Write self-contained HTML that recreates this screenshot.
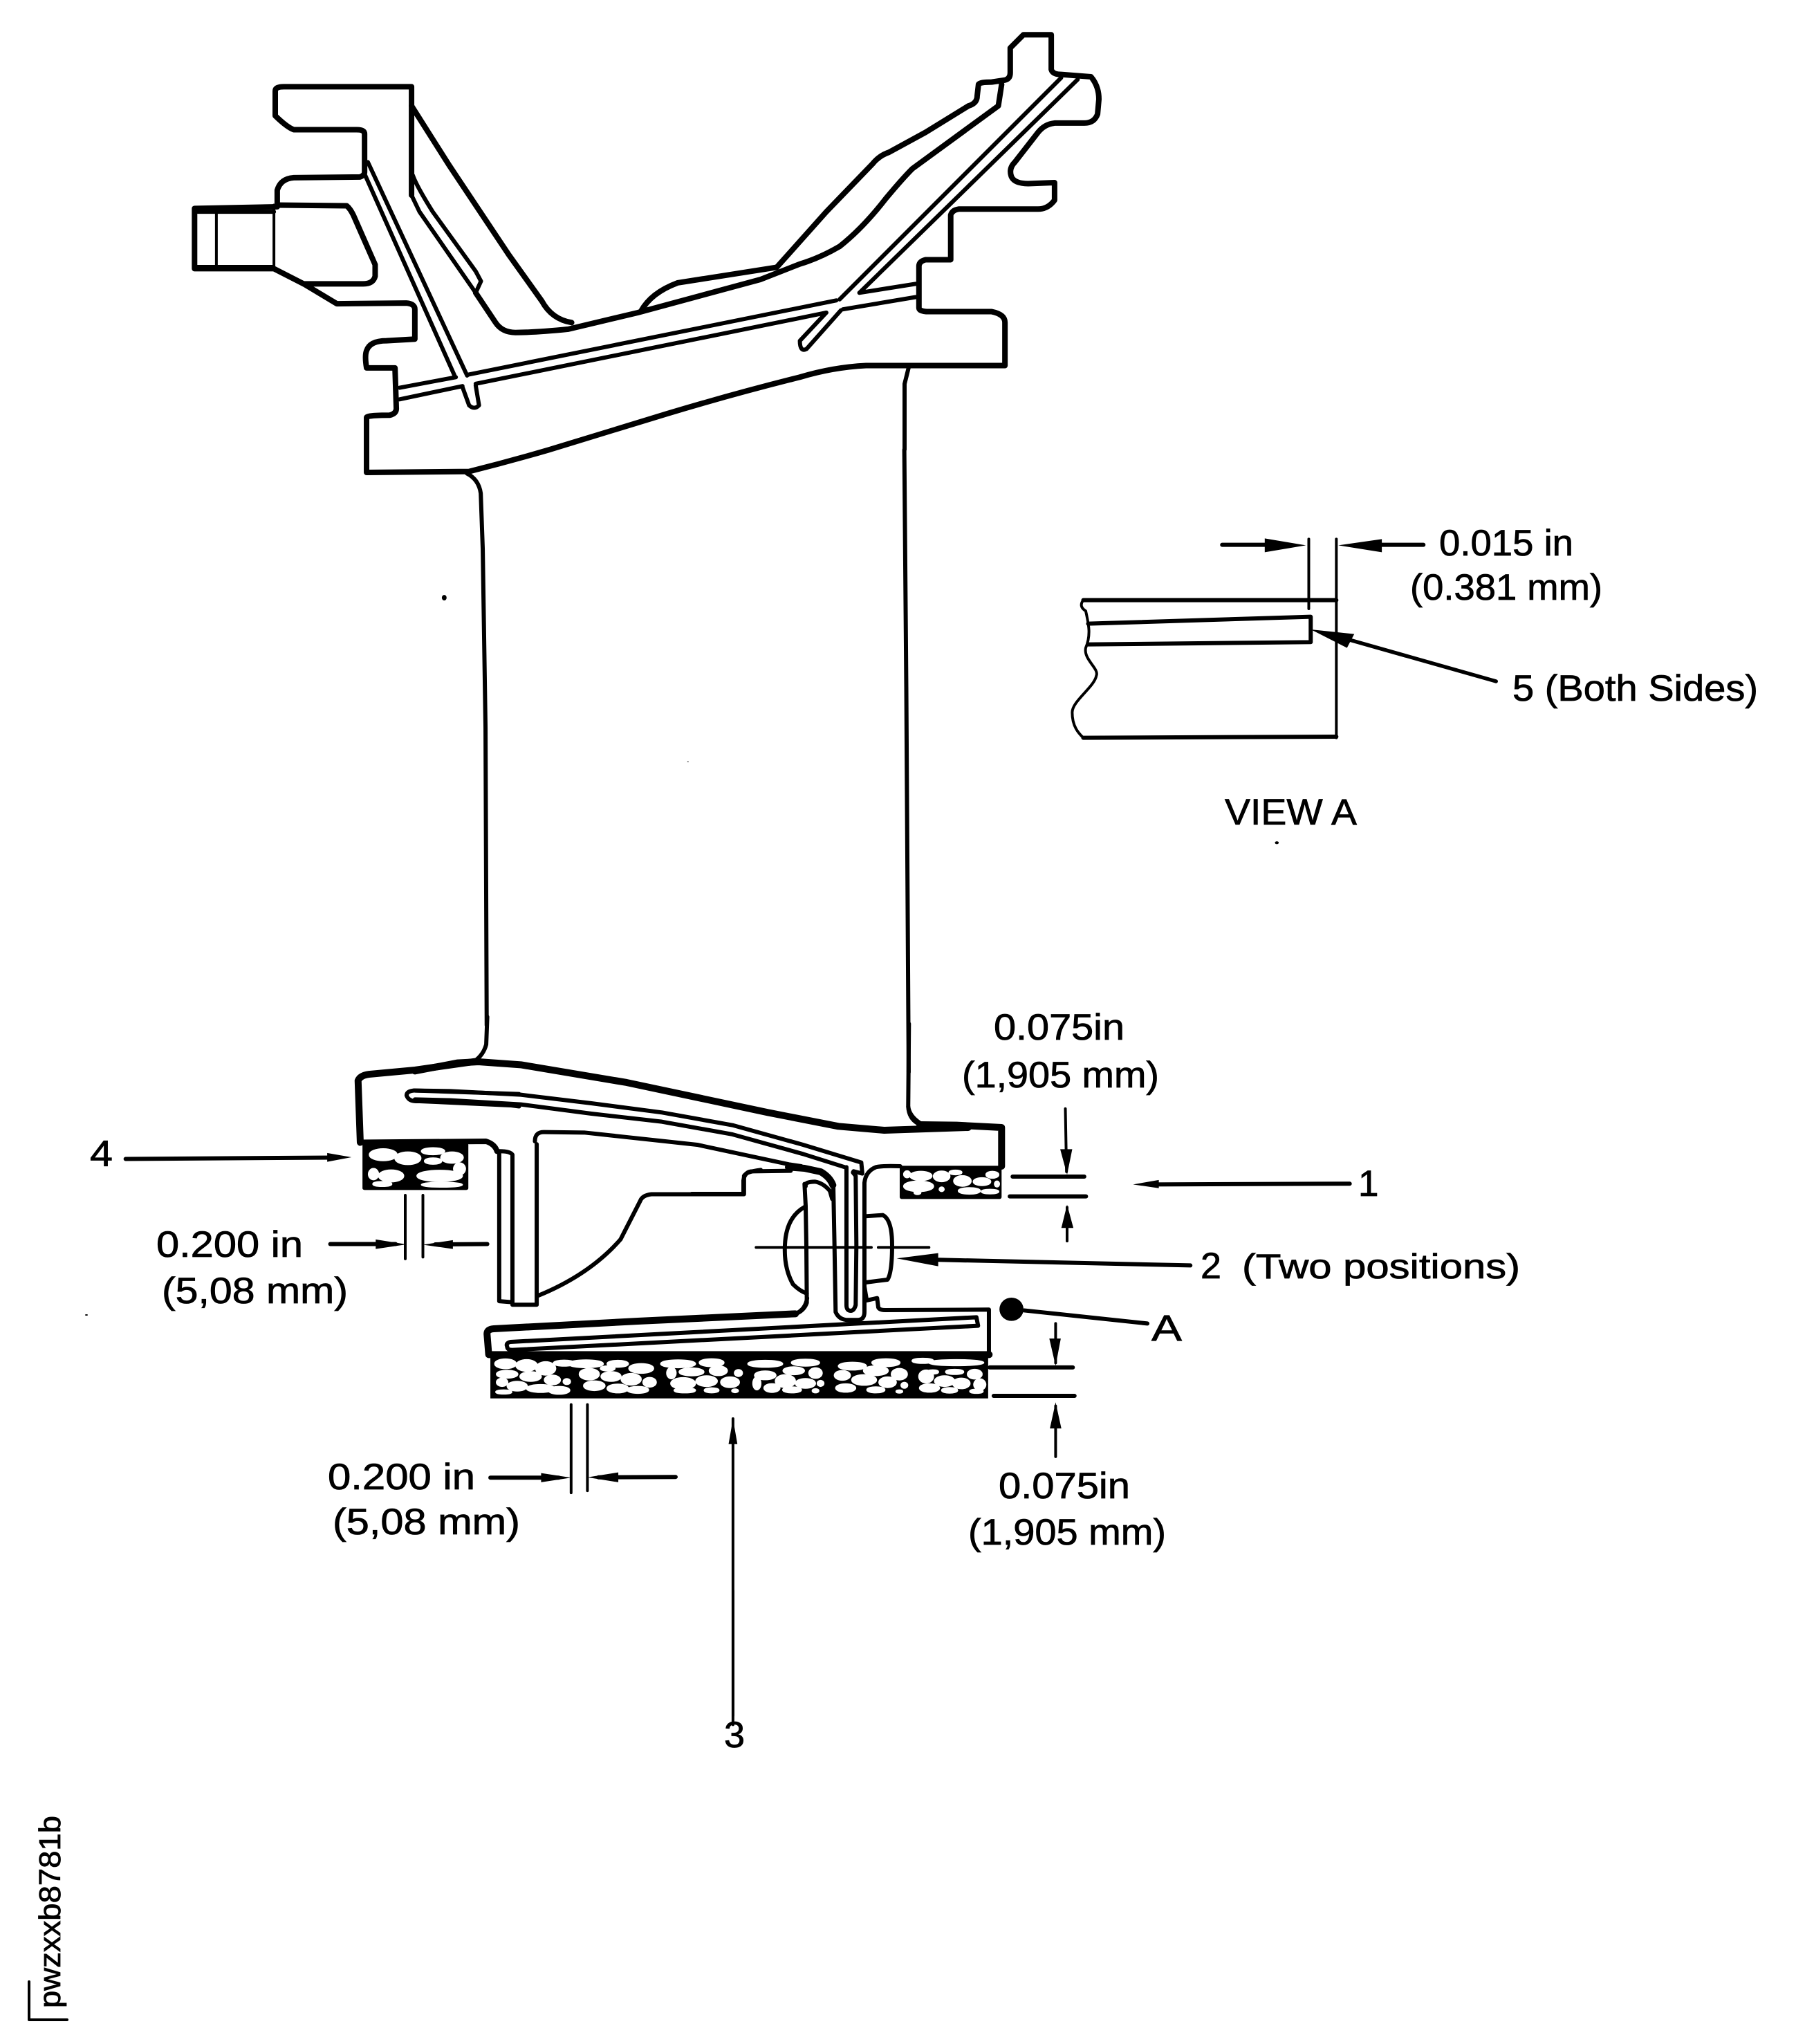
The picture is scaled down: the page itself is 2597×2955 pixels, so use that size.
<!DOCTYPE html>
<html><head><meta charset="utf-8"><title>Blade diagram</title>
<style>
html,body{margin:0;padding:0;background:#fff}
svg{display:block}
path,line,polyline{fill:none;stroke:#000;stroke-width:8;vector-effect:non-scaling-stroke;stroke-linejoin:round;stroke-linecap:round}
.t{stroke-width:6}
.h{stroke-width:4}
.b{stroke-width:10}
polygon{fill:#000;stroke:none}
text{font-family:"Liberation Sans",sans-serif;font-size:53px;fill:#000;stroke:#000;stroke-width:.8}
.w ellipse{fill:#fff;stroke:#fff;stroke-width:3.5;vector-effect:non-scaling-stroke}
</style></head><body>
<svg xmlns="http://www.w3.org/2000/svg" width="2597" height="2955" viewBox="0 0 2597 2955">
<rect width="2597" height="2955" fill="#fff"/>

<!-- top casting -->
<g transform="translate(200,0) scale(.9566,.4783)">
<path d="M760,940 Q775,885 815,855 L965,808 L1040,640 1110,495 Q1120,470 1135,460 L1190,400 1255,320 Q1268,312 1268,290 L1270,255 Q1272,248 1290,248 L1310,242 Q1318,238 1318,220 L1318,145 1338,105 1380,105 1380,210 Q1382,225 1395,225 L1440,232 Q1452,260 1452,300 L1450,345 Q1445,372 1430,372 L1385,372 Q1370,375 1360,400 L1325,490 Q1315,510 1320,535 Q1325,555 1345,555 L1385,552 1385,605 Q1375,632 1360,632 L1240,632 Q1230,635 1228,650 L1228,785 1190,785 Q1180,790 1180,805 L1180,930 Q1180,942 1195,942 L1290,942 Q1310,950 1310,975 L1310,1105 1100,1105 Q1050,1110 1000,1140 Q900,1190 800,1250 L620,1360 Q560,1395 500,1425 L345,1428 345,1262 Q345,1255 380,1255 Q390,1250 390,1235 L388,1112 345,1112 Q342,1075 345,1060 Q350,1030 375,1030 L418,1025 418,935 Q418,918 405,916 L300,918 250,858 205,812 85,812 85,630 210,625 210,575 Q215,540 235,537 L335,535 Q342,530 342,520 L342,405 Q342,392 330,392 L235,392 Q225,385 207,350 L207,275 Q207,262 220,262 L413,262 413,590"/>
<path d="M1305,255 L1300,320 1170,510 Q1155,540 1130,600 Q1095,690 1060,745 Q1030,780 1000,798 L940,845 755,945 650,995 Q600,1005 570,1005 Q550,1005 540,975 L510,885"/>
<path d="M413,320 L470,500 560,770 610,910 Q625,965 655,975"/>
<path d="M415,530 Q420,560 445,640 L510,820 518,850 510,885 L425,640 413,590" class="t"/>
<!-- stub -->
<path d="M90,640 L205,640" class="t"/><path d="M118,640 L118,805 M205,620 L205,805 M85,805 L205,805" class="h"/>
<path d="M210,620 L315,622 Q320,630 325,650 L358,800 358,835 Q355,858 340,858 L250,858"/>
<!-- slots -->
<path class="t" d="M395,1172 L480,1140 M497,1133 L1055,908 M1090,885 L1175,858"/>
<path class="t" d="M395,1207 L490,1167 M510,1160 L1040,945 M1065,935 L1175,898"/>
<path class="t" d="M343,530 L478,1135 M347,490 L497,1135 M490,1170 L500,1225 Q508,1240 515,1225 L510,1165"/>
<path class="t" d="M1395,235 L1060,905 M1040,945 L1000,1030 Q1000,1065 1010,1055 L1062,938 M1420,240 L1090,885"/>
</g>

<!-- airfoil -->
<g transform="translate(500,650) scale(.574)">
<path class="t" d="M305,60 Q335,75 340,110 L345,250 352,700 355,1450"/>
<path class="t" d="M1407,0 L1412,600 1418,1568"/>
<ellipse cx="248" cy="373" rx="6" ry="7"/>
<ellipse cx="862" cy="786" rx="2" ry="1"/>
</g>
<path class="t" d="M1308,650 L1308,555 1314,531"/>
<ellipse cx="125" cy="1901" rx="2" ry="1"/>

<!-- lower platform -->
<g transform="translate(600,1480) scale(.5102,.3333)">
<path d="M1568,450 L1330,462 1200,445 1000,385 600,255 300,178 180,165 120,170 0,205" class="b"/>
<path class="t" d="M205,-30 L202,90 Q195,130 175,155"/>
<path class="t" d="M1400,0 L1398,360 Q1400,410 1425,432"/>
<path class="t" d="M0,290 L100,292 300,308 500,345 700,385 900,440 1100,525 1265,602 L1268,650 L1243,640"/>
<path class="t" d="M0,328 L100,332 300,350 500,390 700,425 900,480 1100,565 1218,622"/>
<path class="t" d="M340,510 Q340,470 365,470 L480,472 800,525 1060,610 1095,618"/>
</g>
<g transform="translate(100,1450) scale(.6378,.5102)">
<path class="b" d="M660,395 L655,220 Q660,205 680,202 L784,190 L925,165"/>
<path class="t" d="M782,248 Q765,250 765,262 Q770,280 790,278 L1000,290 L1000,290 1020,293"/>
<path class="t" d="M782,248 L1020,258"/>
<path d="M660,395 L945,392 Q965,400 970,420" />
<path class="t" d="M975,420 L975,845 1005,848 1005,430 Q1000,420 975,420"/>
<path class="t" d="M1005,855 L1060,855 1060,400"/>
<path class="t" d="M1062,830 Q1180,770 1250,670 L1295,560 Q1300,545 1320,542 L1530,542 1530,490 Q1535,478 1568,473"/>
<path class="h" d="M762,545 L762,725 M802,545 L802,720 M1138,1138 L1138,1388 M1175,1138 L1175,1382"/>
<path class="h" d="M1505,1178 L1505,2045"/>
<polygon points="1505,1178 1495,1250 1515,1250"/>
<!-- small honeycomb -->
<rect x="665" y="397" width="240" height="133" rx="5"/>
<g class="w">
<ellipse cx="712" cy="430" rx="30" ry="15"/><ellipse cx="768" cy="440" rx="28" ry="16"/><ellipse cx="825" cy="420" rx="25" ry="8"/><ellipse cx="868" cy="438" rx="24" ry="14"/><ellipse cx="825" cy="448" rx="18" ry="7"/>
<ellipse cx="730" cy="490" rx="27" ry="15"/><ellipse cx="690" cy="485" rx="10" ry="14"/><ellipse cx="840" cy="490" rx="50" ry="14"/><ellipse cx="710" cy="513" rx="20" ry="5"/><ellipse cx="845" cy="515" rx="45" ry="5"/><ellipse cx="885" cy="470" rx="12" ry="15"/>
</g>
</g>
<g transform="translate(1000,1600) scale(.3333)">
<path class="t" d="M940,0 Q945,40 990,70"/>
<path class="b" d="M990,78 L1150,80 L1345,90 L1345,258"/>
<path d="M700,285 L712,300 L715,600 L712,860 Q705,885 690,885 Q672,885 672,860 L672,262" class="t"/>
<path d="M615,340 L620,600 L625,890 Q640,925 680,925 L720,925 Q750,925 750,890 L750,330 Q755,280 800,262 Q830,255 905,258" class="t"/>
<path d="M420,262 L490,267 560,282 Q600,305 613,340" class="b"/>
<path d="M225,378 L225,320 Q230,280 265,280 L430,278" class="t"/><path d="M0,378 L225,378" class="t"/>
<path class="t" d="M495,345 Q490,325 535,325 Q570,330 600,365 L610,400"/>
<path class="t" d="M490,335 L495,430 498,600 500,850 Q490,880 460,895"/>
<path class="t" d="M490,435 Q410,480 405,600 Q400,700 440,770 Q470,800 500,810"/>
<path class="t" d="M755,475 L830,470 Q870,490 870,600 Q870,720 850,750 L755,762"/>
<path class="h" d="M280,610 L780,610 M810,610 L1030,610"/>
<polygon points="890,658 1070,635 1070,692"/>
<path class="t" d="M750,780 L760,840 805,830 810,870 Q815,882 840,882 L1290,880 1290,1080"/>
<!-- right small honeycomb -->
<rect x="903" y="256" width="442" height="144" rx="8"/>
<g class="w">
<ellipse cx="935" cy="293" rx="12" ry="12"/><ellipse cx="995" cy="300" rx="45" ry="17"/><ellipse cx="1085" cy="302" rx="33" ry="20"/><ellipse cx="985" cy="345" rx="62" ry="20"/><ellipse cx="1145" cy="285" rx="25" ry="7"/><ellipse cx="1175" cy="322" rx="35" ry="20"/><ellipse cx="1260" cy="325" rx="35" ry="14"/><ellipse cx="1305" cy="295" rx="25" ry="12"/><ellipse cx="1205" cy="365" rx="45" ry="11"/><ellipse cx="1295" cy="368" rx="35" ry="7"/><ellipse cx="980" cy="372" rx="12" ry="6"/><ellipse cx="1325" cy="335" rx="8" ry="10"/><ellipse cx="1085" cy="358" rx="8" ry="7"/>
</g>
</g>
<g transform="translate(680,1850) scale(.4847,.3333)">
<path class="b" d="M970,148 L500,180 70,213 Q50,215 50,235 L55,325 L1548,325"/>
<path class="t" d="M970,148 Q1000,130 1005,80"/>
<path class="t" d="M120,270 Q105,275 110,290 Q110,305 125,305 L1515,200 1510,163 120,270"/>
<rect x="60" y="330" width="1485" height="185"/>
<g class="w">
<ellipse cx="105" cy="365" rx="30" ry="18"/><ellipse cx="168" cy="372" rx="30" ry="22"/><ellipse cx="225" cy="385" rx="28" ry="26"/><ellipse cx="280" cy="362" rx="30" ry="10"/><ellipse cx="110" cy="410" rx="30" ry="14"/><ellipse cx="180" cy="420" rx="30" ry="18"/><ellipse cx="245" cy="435" rx="22" ry="18"/><ellipse cx="288" cy="442" rx="9" ry="10"/><ellipse cx="95" cy="445" rx="15" ry="15"/><ellipse cx="140" cy="462" rx="28" ry="18"/><ellipse cx="210" cy="472" rx="40" ry="14"/><ellipse cx="265" cy="480" rx="30" ry="14"/><ellipse cx="100" cy="487" rx="22" ry="6"/>
<ellipse cx="355" cy="410" rx="28" ry="22"/><ellipse cx="420" cy="420" rx="28" ry="18"/><ellipse cx="480" cy="432" rx="28" ry="22"/><ellipse cx="535" cy="445" rx="18" ry="18"/><ellipse cx="370" cy="460" rx="30" ry="18"/><ellipse cx="440" cy="472" rx="30" ry="16"/><ellipse cx="500" cy="478" rx="30" ry="12"/><ellipse cx="345" cy="365" rx="50" ry="14"/><ellipse cx="440" cy="365" rx="30" ry="12"/><ellipse cx="510" cy="385" rx="35" ry="18"/><ellipse cx="410" cy="385" rx="20" ry="8"/>
<ellipse cx="600" cy="405" rx="12" ry="22"/><ellipse cx="660" cy="400" rx="35" ry="14"/><ellipse cx="740" cy="395" rx="25" ry="18"/><ellipse cx="800" cy="405" rx="10" ry="12"/><ellipse cx="635" cy="450" rx="35" ry="22"/><ellipse cx="705" cy="440" rx="30" ry="20"/><ellipse cx="775" cy="445" rx="26" ry="20"/><ellipse cx="640" cy="480" rx="30" ry="8"/><ellipse cx="720" cy="480" rx="20" ry="8"/><ellipse cx="790" cy="482" rx="8" ry="5"/><ellipse cx="620" cy="365" rx="50" ry="14"/><ellipse cx="720" cy="360" rx="35" ry="14"/>
<ellipse cx="855" cy="450" rx="10" ry="25"/><ellipse cx="880" cy="415" rx="30" ry="16"/><ellipse cx="940" cy="440" rx="28" ry="25"/><ellipse cx="1000" cy="450" rx="28" ry="18"/><ellipse cx="900" cy="470" rx="22" ry="16"/><ellipse cx="960" cy="478" rx="26" ry="10"/><ellipse cx="1030" cy="482" rx="8" ry="6"/><ellipse cx="1045" cy="450" rx="8" ry="10"/><ellipse cx="1030" cy="405" rx="18" ry="20"/><ellipse cx="965" cy="395" rx="30" ry="14"/><ellipse cx="880" cy="365" rx="50" ry="12"/><ellipse cx="1000" cy="360" rx="40" ry="12"/>
<ellipse cx="1110" cy="415" rx="22" ry="18"/><ellipse cx="1175" cy="435" rx="35" ry="20"/><ellipse cx="1245" cy="445" rx="24" ry="20"/><ellipse cx="1295" cy="458" rx="8" ry="10"/><ellipse cx="1120" cy="470" rx="28" ry="15"/><ellipse cx="1210" cy="478" rx="25" ry="10"/><ellipse cx="1280" cy="485" rx="8" ry="4"/><ellipse cx="1280" cy="410" rx="22" ry="22"/><ellipse cx="1210" cy="395" rx="35" ry="18"/><ellipse cx="1140" cy="375" rx="40" ry="14"/><ellipse cx="1240" cy="360" rx="40" ry="14"/>
<ellipse cx="1360" cy="420" rx="20" ry="25"/><ellipse cx="1415" cy="440" rx="28" ry="20"/><ellipse cx="1465" cy="450" rx="24" ry="20"/><ellipse cx="1520" cy="455" rx="16" ry="22"/><ellipse cx="1370" cy="470" rx="28" ry="15"/><ellipse cx="1430" cy="480" rx="22" ry="9"/><ellipse cx="1510" cy="484" rx="18" ry="6"/><ellipse cx="1505" cy="410" rx="20" ry="18"/><ellipse cx="1445" cy="400" rx="25" ry="8"/><ellipse cx="1380" cy="400" rx="15" ry="6"/><ellipse cx="1450" cy="360" rx="80" ry="10"/><ellipse cx="1350" cy="352" rx="30" ry="8"/>
</g>
</g>

<!-- dimension annotations right -->
<g transform="translate(1000,1450) scale(.829,.542)">
<path class="h" d="M652,282 L654,450"/><polygon points="643,390 664,390 655,458"/>
<path d="M560,463 L685,463 M555,516 L688,516" class="t"/>
<path class="h" d="M655,635 L655,545"/><polygon points="645,600 666,600 655,538"/>
<path class="t" d="M1148,482 L800,484"/><polygon points="770,484 815,472 815,494"/>
<path class="t" d="M430,685 L870,700"/>
<ellipse cx="558" cy="817" rx="21" ry="31"/>
<path class="t" d="M580,820 L795,855"/>
<path class="h" d="M635,855 L635,960"/><polygon points="624,895 644,895 635,968"/>
<path d="M520,972 L665,972 M527,1048 L668,1048" class="t"/>
<path class="h" d="M635,1210 L635,1075"/><polygon points="625,1135 645,1135 635,1065"/>
</g>
<!-- dimension annotations left -->
<g transform="translate(100,1450) scale(.6378,.5102)">
<path class="t" d="M128,442 L600,438"/><polygon points="640,437 585,425 585,450"/>
<path class="t" d="M592,683 L740,683"/><polygon points="765,684 695,670 695,697"/>
<path class="t" d="M948,683 L830,684"/><polygon points="802,685 870,672 870,697"/>
<path class="t" d="M955,1345 L1110,1345"/><polygon points="1138,1345 1070,1332 1070,1358"/>
<path class="t" d="M1375,1343 L1200,1344"/><polygon points="1175,1344 1245,1330 1245,1358"/>
</g>
<path class="h" d="M1060,2300 L1060,2480"/>

<!-- View A -->
<g transform="translate(1500,720) scale(.6996,.3333)">
<path class="t" d="M382,203 L480,203 M798,203 L700,203"/>
<polygon points="555,205 470,175 470,235"/><polygon points="622,205 712,178 712,235"/>
<path class="h" d="M561,178 L561,480 M618,178 L618,1040"/>
<path d="M95,443 L618,443 M95,1040 L618,1035" class="t"/>
<path class="h" d="M95,443 Q85,470 100,490 C105,540 112,590 100,650 C95,700 128,740 122,770 C118,820 72,880 72,930 C72,990 85,1020 95,1040"/>
<path class="t" d="M105,545 L565,515 565,625 105,635"/>
<path class="b" d="M948,795 L620,600" style="stroke-width:5.5"/>
<polygon points="565,570 655,590 640,650"/>
<ellipse cx="495" cy="1495" rx="4" ry="6"/>
</g>

<!-- Text -->
<text x="1437" y="1503" textLength="189" lengthAdjust="spacingAndGlyphs">0.075in</text>
<text x="1391" y="1572" textLength="285" lengthAdjust="spacingAndGlyphs">(1,905 mm)</text>
<text x="1444" y="2166" textLength="190" lengthAdjust="spacingAndGlyphs">0.075in</text>
<text x="1400" y="2233" textLength="286" lengthAdjust="spacingAndGlyphs">(1,905 mm)</text>
<text x="1736" y="1848" textLength="30" lengthAdjust="spacingAndGlyphs">2</text>
<text x="1796" y="1848" textLength="402" lengthAdjust="spacingAndGlyphs" style="font-size:50px">(Two positions)</text>
<text x="1964" y="1729">1</text>
<text x="1665" y="1938" textLength="44" lengthAdjust="spacingAndGlyphs">A</text>
<text x="130" y="1686" textLength="33" lengthAdjust="spacingAndGlyphs">4</text>
<text x="226" y="1817" textLength="212" lengthAdjust="spacingAndGlyphs">0.200 in</text>
<text x="234" y="1884" textLength="269" lengthAdjust="spacingAndGlyphs">(5,08 mm)</text>
<text x="474" y="2153" textLength="213" lengthAdjust="spacingAndGlyphs">0.200 in</text>
<text x="481" y="2218" textLength="271" lengthAdjust="spacingAndGlyphs">(5,08 mm)</text>
<text x="2081" y="803" textLength="194" lengthAdjust="spacingAndGlyphs">0.015 in</text>
<text x="2039" y="867" textLength="278" lengthAdjust="spacingAndGlyphs">(0.381 mm)</text>
<text x="2187" y="1013" textLength="355" lengthAdjust="spacingAndGlyphs">5 (Both Sides)</text>
<text x="1771" y="1192" textLength="191" lengthAdjust="spacingAndGlyphs">VIEW A</text>
<text x="1047" y="2526" textLength="30" lengthAdjust="spacingAndGlyphs">3</text>
<text transform="translate(87,2903) rotate(-90)" textLength="278" lengthAdjust="spacingAndGlyphs" style="font-size:44px">pwzxxb8781b</text>
<path class="h" d="M42,2865 L42,2920 L97,2920"/>
</svg>
</body></html>
